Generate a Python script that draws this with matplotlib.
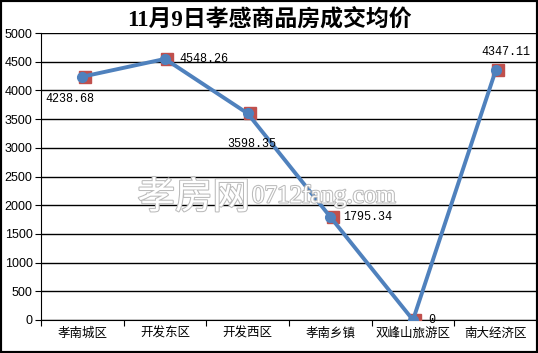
import numpy as np
import matplotlib.pyplot as plt
from matplotlib.patches import Rectangle
import matplotlib.patheffects as pe

plt.rcParams['font.family'] = ['Noto Sans CJK SC', 'DejaVu Sans']

areas = ['孝南城区', '开发东区', '开发西区', '孝南乡镇', '双峰山旅游区', '南大经济区']
prices = [4238.68, 4548.26, 3598.35, 1795.34, 0, 4347.11]
label_txt = ['4238.68', '4548.26', '3598.35', '1795.34', '0', '4347.11']
y_ticks = [0, 500, 1000, 1500, 2000, 2500, 3000, 3500, 4000, 4500, 5000]

fig = plt.figure(figsize=(5.38, 3.53), dpi=100)
ax = fig.add_axes([41 / 538, 1 - 320 / 353, 496 / 538, 287 / 353])

x = np.arange(len(areas)) + 0.5
ax.plot(x + 0.03, prices, ls='none', marker='s', ms=9, color='#C0504D', zorder=3)
ax.plot(x, prices, color='#4F81BD', lw=2.8, marker='o', ms=7, zorder=4)

# data labels, placed like the original
offs = [(-9, -16, 'center'), (10, 0, 'left'), (3, -22, 'center'),
        (9, 0, 'left'), (11, 0, 'left'), (7, 13, 'center')]
for xi, yi, t, (dx, dy, ha) in zip(x, prices, label_txt, offs):
    ax.annotate(t, (xi, yi), xytext=(dx, dy), textcoords='offset points',
                ha=ha, va='center', fontsize=8.5, family=['Liberation Mono'], zorder=5)

ax.set_xlim(0, 6)
ax.set_ylim(0, 5000)
ax.set_yticks(y_ticks)
ax.set_yticklabels([str(v) for v in y_ticks], family=['Liberation Sans'], fontsize=9)
ax.grid(axis='y', color='black', lw=1)
ax.set_axisbelow(True)

ax.set_xticks(np.arange(0, 7))
ax.set_xticklabels([])
ax.set_xticks(x, minor=True)
ax.set_xticklabels(areas, minor=True, fontsize=9)
ax.tick_params(axis='x', which='major', direction='out', length=4, color='black')
ax.tick_params(axis='x', which='minor', length=0, pad=5)
ax.tick_params(axis='y', direction='out', length=4, pad=2)

for s in ['top', 'right']:
    ax.spines[s].set_visible(False)
ax.spines['left'].set_color('black')
ax.spines['bottom'].set_color('black')

# watermark
wm = [pe.withStroke(linewidth=1.5, foreground='#BBBBBB')]
fig.text(250 / 538, 1 - 198 / 353, '孝房网', ha='right', va='center', fontsize=27,
         color='white', zorder=2, path_effects=wm)
fig.text(252 / 538, 1 - 196 / 353, '0712fang.com', ha='left', va='center', fontsize=18,
         color='white', zorder=2, path_effects=wm, family=['Liberation Serif'])

fig.text(0.5, 1 - 19 / 353, '11月9日孝感商品房成交均价', ha='center', va='center',
         fontsize=16.5, fontweight='bold', family=['Liberation Serif', 'Noto Sans CJK SC'])

fig.patches.append(Rectangle((0, 0), 1, 1, transform=fig.transFigure, fill=False,
                             edgecolor='black', lw=3))

fig.savefig('out.png', dpi=100)
